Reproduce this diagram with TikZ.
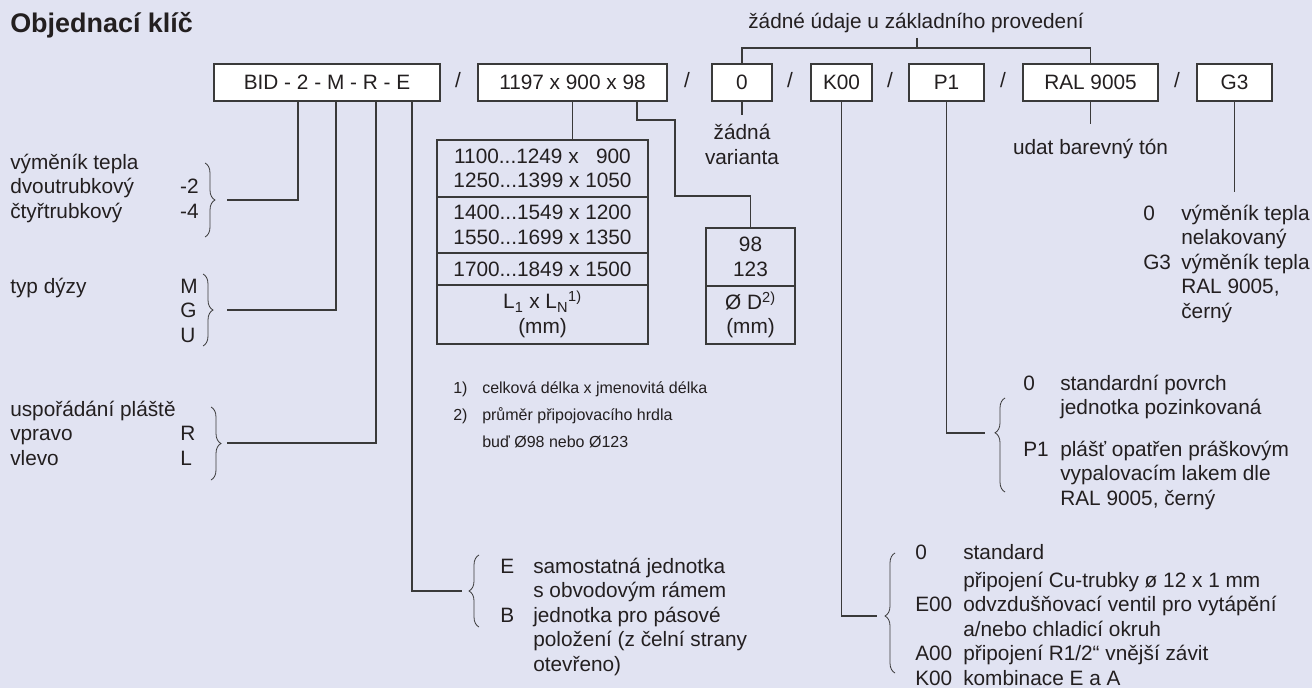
\documentclass[tikz,border=0pt]{standalone}
\usepackage{fontspec}
\setmainfont{Liberation Sans}
\usetikzlibrary{decorations.pathreplacing}
\definecolor{bgcol}{RGB}{225,227,242}
\definecolor{linecol}{RGB}{58,58,58}
\definecolor{txtcol}{RGB}{35,31,32}
\newcommand\mainfs{\fontsize{15.6}{18.4}\selectfont}
\newcommand\notefs{\fontsize{12}{20.25}\selectfont}
\begin{document}
\begin{tikzpicture}[x=0.75pt,y=-0.75pt,
  keybox/.style={draw=linecol, line width=0.8pt, fill=white, inner sep=0pt,
    minimum height=27.75pt, font=\mainfs, text=txtcol},
  cell/.style={draw=linecol, line width=0.8pt, inner sep=0pt, font=\mainfs,
    align=center, minimum width=158.25pt, text=txtcol},
  dcell/.style={cell, minimum width=66.75pt},
  conn/.style={draw=linecol, line width=0.85pt},
  brc/.style={draw=linecol, line width=0.6pt, decorate,
    decoration={brace, amplitude=7.5pt, #1}},
  brc/.default={aspect=0.5},
  txt/.style={inner sep=0pt, font=\mainfs, anchor=base west, text=txtcol},
  sep/.style={inner sep=0pt, font=\mainfs, anchor=base, text=txtcol}]

\fill[bgcol] (0,0) rectangle (1312,688);
\useasboundingbox (0,0) rectangle (1312,688);

% title
\node[txt, font=\fontsize{20.2}{24}\selectfont\bfseries] (title) at (10,33) {Objednací klíč};

% top row of key boxes
\node[keybox, minimum width=169.5pt]  (bid)  at (327,82.5)    {BID - 2 - M - R - E};
\node[keybox, minimum width=141.75pt] (dims) at (572.5,82.5)  {1197 x 900 x 98};
\node[keybox, minimum width=45pt]     (zero) at (742,82.5)    {0\hspace{3pt}};
\node[keybox, minimum width=45.75pt]  (k00)  at (841.5,82.5)  {K00\hspace{13.5pt}};
\node[keybox, minimum width=56.25pt]  (p1)   at (946.5,82.5)  {P1};
\node[keybox, minimum width=101.25pt] (ral)  at (1090.5,82.5) {RAL 9005};
\node[keybox, minimum width=56.25pt]  (g3)   at (1234.5,82.5) {G3};

\node[sep] (s1) at (458,88)  {/};
\node[sep] (s2) at (687,88)  {/};
\node[sep] (s3) at (790,88)  {/};
\node[sep] (s4) at (890,88)  {/};
\node[sep] (s5) at (1003,88) {/};
\node[sep] (s6) at (1177,88) {/};

% note above
\node[sep] (topnote) at (916,29) {žádné údaje u základního provedení};
\coordinate (tn) at (917,38);
\coordinate (tb) at (917,48);
\draw[conn] (tn) -- (tb);
\draw[conn] (zero.north) -- (zero.north |- tb) -- (ral.north |- tb) -- (ral.north);

% 0 box
\node[sep] (var) at (742,140) {\begin{tabular}[t]{@{}c@{}}žádná\\varianta\end{tabular}};
\coordinate (zt) at (742,115);
\draw[conn] (zero.south) -- (zt);

% RAL box
\node[sep] (ton) at (1090.5,155) {udat barevný tón};
\coordinate (rt) at (1090.5,124);
\draw[conn] (ral.south) -- (rt);

% G3 box
\coordinate (gt) at (1234.5,192);
\draw[conn] (g3.south) -- (gt);
\node[txt] (gtext) at (1143,220) {\begin{tabular}[t]{@{}p{28.5pt}@{}l@{}}
0 & výměník tepla\\
  & nelakovaný\\
G3 & výměník tepla\\
  & RAL 9005,\\
  & černý\end{tabular}};

% dimension table
\node[cell, minimum height=42.75pt] (l1) at (542.5,168.5) {1100...1249 x \phantom{0}900\\1250...1399 x 1050};
\node[cell, minimum height=42pt]    (l2) at (542.5,225)   {1400...1549 x 1200\\1550...1699 x 1350};
\node[cell, minimum height=24pt]    (l3) at (542.5,269)   {1700...1849 x 1500};
\node[cell, minimum height=44.25pt] (l4) at (542.5,314.5) {L\textsubscript{1} x L\textsubscript{N}\textsuperscript{1)}\\(mm)};

\node[dcell, minimum height=43.5pt] (d1) at (750.5,257) {98\\123};
\node[dcell, minimum height=43.5pt] (d2) at (750.5,315) {Ø D\textsuperscript{2)}\\(mm)};

\draw[conn] (dims.south) -- (dims.south |- l1.north);
\coordinate (q1) at (637,120);
\coordinate (q2) at (675,120);
\coordinate (q3) at (675,196);
\draw[conn] (dims.south -| q1) -- (q1) -- (q2) -- (q3) -- (q3 -| d1.north) -- (d1.north);

% footnotes
\node[txt, font=\notefs] (notes) at (453,393) {\begin{tabular}[t]{@{}p{21.75pt}@{}l@{}}
1) & celková délka x jmenovitá délka\\
2) & průměr připojovacího hrdla\\
   & buď Ø98 nebo Ø123\end{tabular}};

% left legend blocks
\node[txt] (leg1) at (10,169) {\begin{tabular}[t]{@{}p{127.5pt}@{}l@{}}
\multicolumn{2}{@{}l@{}}{výměník tepla}\\
dvoutrubkový & -2\\
čtyřtrubkový & -4\end{tabular}};
\node[txt] (leg2) at (10,293) {\begin{tabular}[t]{@{}p{127.5pt}@{}l@{}}
typ dýzy & M\\
 & G\\
 & U\end{tabular}};
\node[txt] (leg3) at (10,416) {\begin{tabular}[t]{@{}p{127.5pt}@{}l@{}}
\multicolumn{2}{@{}l@{}}{uspořádání pláště}\\
vpravo & R\\
vlevo & L\end{tabular}};

\draw[brc] (205,163) -- (205,237);
\draw[brc] (203,274) -- (203,346);
\draw[brc] (211,407) -- (211,480);

\coordinate (cA) at (298,200); \coordinate (tA) at (227,200);
\coordinate (cB) at (336,310); \coordinate (tB) at (227,310);
\coordinate (cC) at (376,443); \coordinate (tC) at (227,443);
\coordinate (cD) at (412,591); \coordinate (tD) at (462,591);
\draw[conn] (bid.south -| cA) -- (cA) -- (tA);
\draw[conn] (bid.south -| cB) -- (cB) -- (tB);
\draw[conn] (bid.south -| cC) -- (cC) -- (tC);
\draw[conn] (bid.south -| cD) -- (cD) -- (tD);

% E block
\draw[brc] (479,627) -- (479,555);
\node[txt] (eblock) at (500,573) {\begin{tabular}[t]{@{}p{24.75pt}@{}l@{}}
E & samostatná jednotka\\
  & s obvodovým rámem\\
B & jednotka pro pásové\\
  & položení (z čelní strany\\
  & otevřeno)\end{tabular}};

% P1 block
\coordinate (pt) at (985,433);
\draw[conn] (p1.south) -- (p1.south |- pt) -- (pt);
\draw[brc={aspect=0.63}] (1005,492) -- (1005,398);
\node[txt] (pblock) at (1023,390) {\begin{tabular}[t]{@{}p{27.75pt}@{}l@{}}
0 & standardní povrch\\
  & jednotka pozinkovaná\\[13pt]
P1 & plášť opatřen práškovým\\
   & vypalovacím lakem dle\\
   & RAL 9005, černý\end{tabular}};

% K00 block
\coordinate (kt) at (877,616);
\draw[conn] (k00.south) -- (k00.south |- kt) -- (kt);
\draw[brc={aspect=0.475}] (895,673) -- (895,553);
\node[txt] (kblock) at (915,559) {\begin{tabular}[t]{@{}p{36pt}@{}l@{}}
0 & standard\\[2.6pt]
  & připojení Cu-trubky ø 12 x 1 mm\\
E00 & odvzdušňovací ventil pro vytápění\\
    & a/nebo chladicí okruh\\
A00 & připojení R1/2“ vnější závit\\
K00 & kombinace E a A\end{tabular}};

\end{tikzpicture}
\end{document}
